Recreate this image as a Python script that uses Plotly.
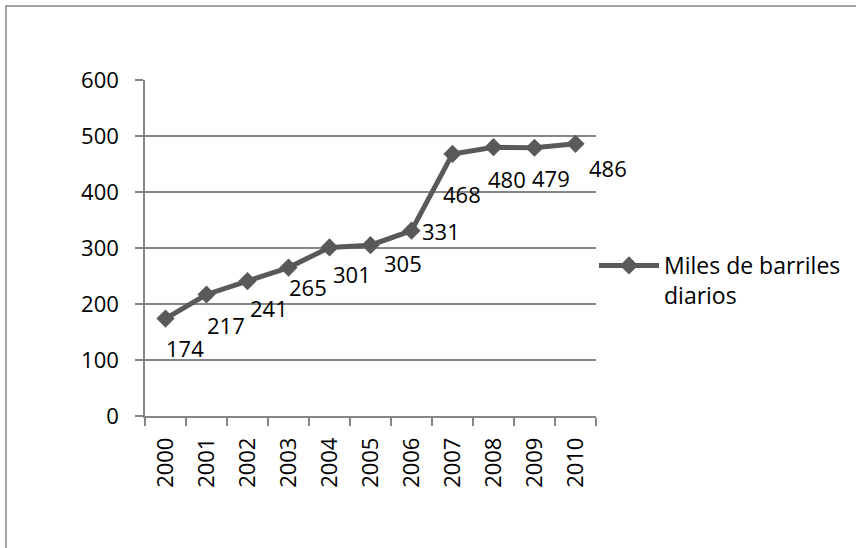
import plotly.graph_objects as go

years = ["2000", "2001", "2002", "2003", "2004", "2005", "2006", "2007", "2008", "2009", "2010"]
values = [174, 217, 241, 265, 301, 305, 331, 468, 480, 479, 486]
series_name = "Miles de barriles<br>diarios"

# label offsets (px, right / down) relative to each point
label_dx = [19, 19, 21, 19, 22, 32, 29, 9, 13, 16, 32]
label_dy = [29, 31, 27, 19, 27, 18, 0, 40, 32, 30, 24]

FONT = "Open Sans"
FS = 22
LINE_COLOR = "#595959"
GRID = "#868686"

fig = go.Figure()
fig.add_trace(go.Scatter(
    x=years, y=values, mode="lines+markers", name=series_name,
    line=dict(color=LINE_COLOR, width=5),
    marker=dict(symbol="diamond", size=14, color=LINE_COLOR),
    showlegend=True,
))

for i, (v, dx, dy) in enumerate(zip(values, label_dx, label_dy)):
    fig.add_annotation(x=i, y=v, xref="x", yref="y", text=str(v), showarrow=False,
                       xanchor="center", yanchor="middle",
                       xshift=dx, yshift=-dy,
                       font=dict(family=FONT, size=FS, color="black"))

L, R, T, B = 145, 260, 80, 132
W, H = 856, 548
pw, ph = W - L - R, H - T - B

# chart border (left/top visible, right/bottom run off the page)
fig.add_shape(type="rect", xref="paper", yref="paper",
              x0=(6 - L) / pw, x1=(W + 20 - L) / pw,
              y0=-(H + 20 - T - ph) / ph, y1=(T + ph - 6) / ph,
              line=dict(color=GRID, width=1.5), fillcolor="rgba(0,0,0,0)", layer="below")

fig.update_layout(
    width=W, height=H,
    margin=dict(l=L, r=R, t=T, b=B, pad=0, autoexpand=False),
    paper_bgcolor="white", plot_bgcolor="white",
    font=dict(family=FONT, size=FS, color="black"),
    legend=dict(x=(594 - L) / pw, xanchor="left", y=(T + ph - 244) / ph, yanchor="top",
                valign="top", itemwidth=60, font=dict(family=FONT, size=23, color="black"),
                bgcolor="rgba(0,0,0,0)"),
    xaxis=dict(type="category", range=[-0.5, 10.5], showgrid=False, zeroline=False,
               showline=True, linecolor=GRID, linewidth=1.5,
               ticks="outside", ticklen=8, tickcolor=GRID, tickwidth=1.5,
               tickson="boundaries", tickangle=-90, ticklabelstandoff=11,
               tickfont=dict(family=FONT, size=FS, color="black")),
    yaxis=dict(range=[0, 600], dtick=100, tick0=0, showgrid=True, gridcolor=GRID, gridwidth=1.5,
               zeroline=False, showline=True, linecolor=GRID, linewidth=1.5,
               ticks="outside", ticklen=8, tickcolor=GRID, tickwidth=1.5, ticklabelstandoff=12,
               tickfont=dict(family=FONT, size=FS, color="black")),
)

fig.write_html("out.html", config={"displayModeBar": False},
               post_script="document.body.style.margin='0';document.body.style.overflow='hidden';")
